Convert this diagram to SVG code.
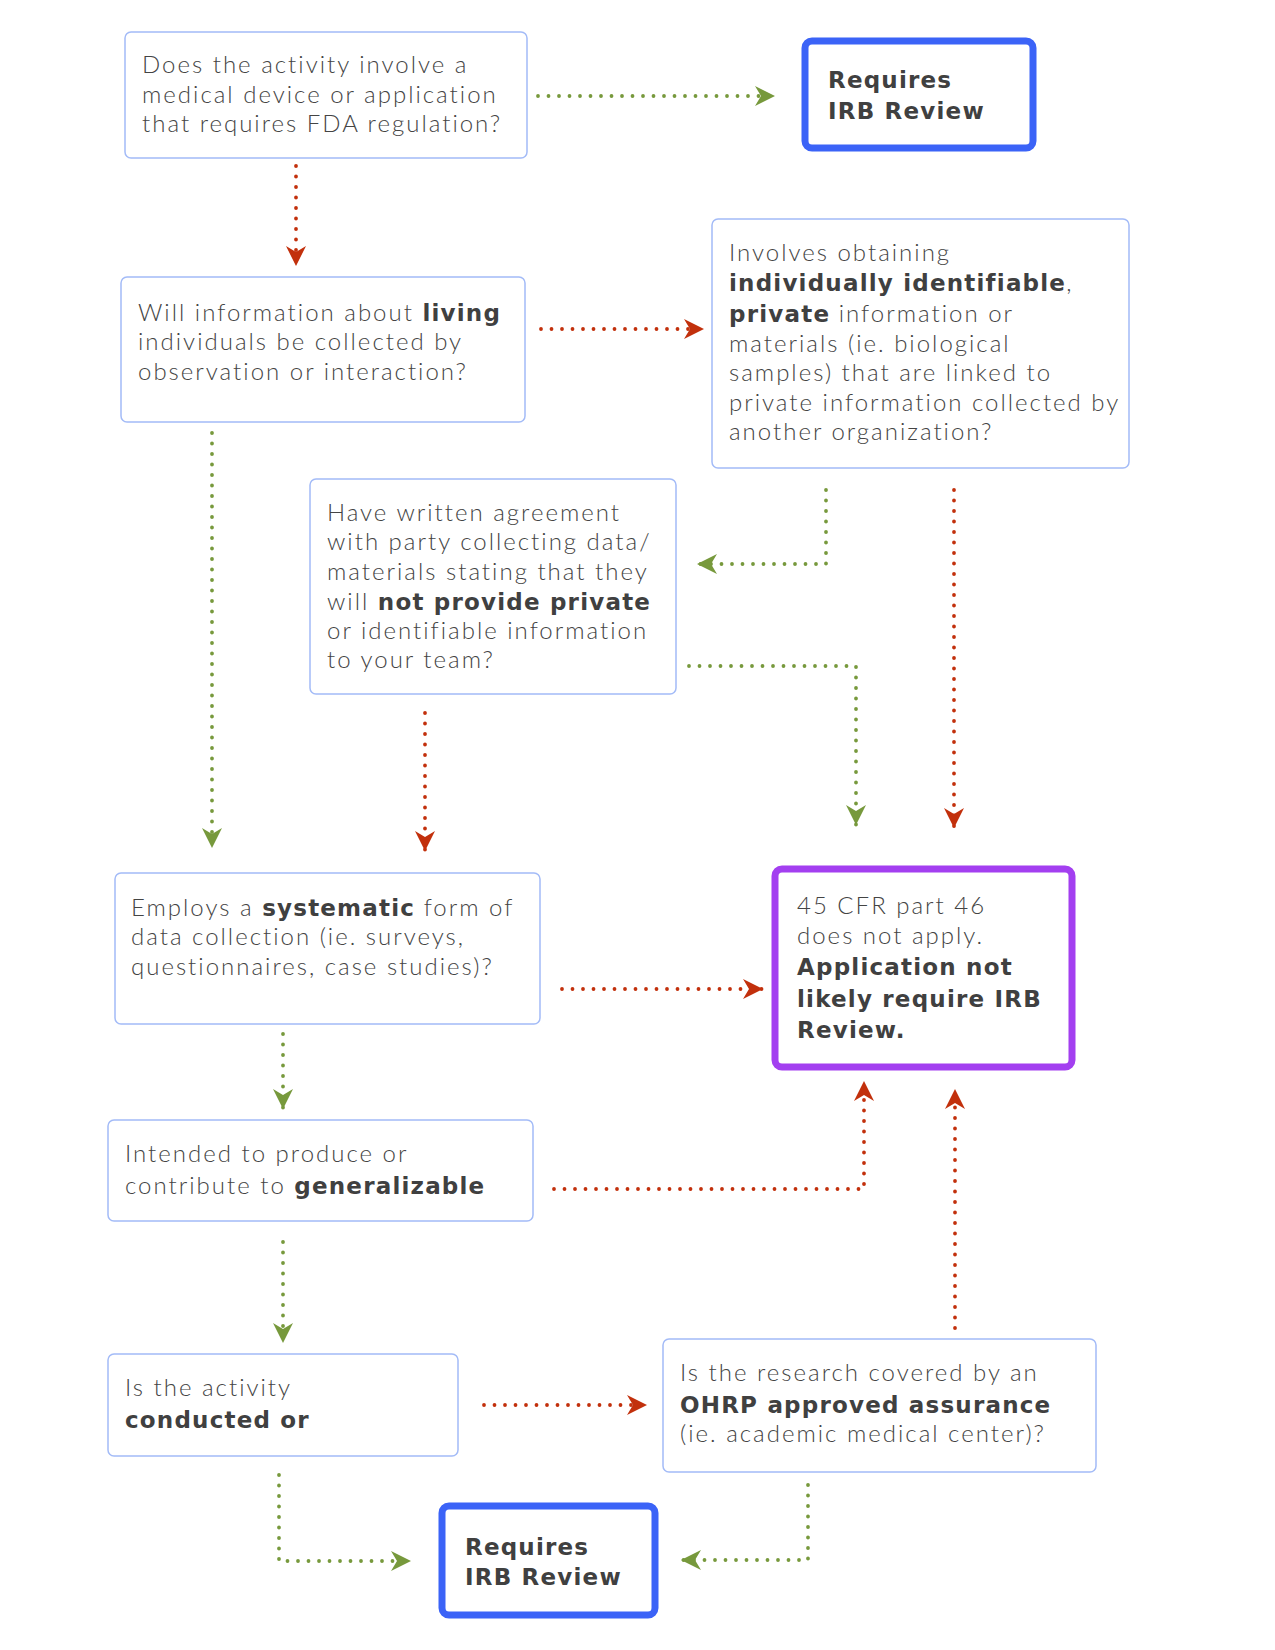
<svg xmlns="http://www.w3.org/2000/svg" width="1275" height="1650" viewBox="0 0 1275 1650">
<defs>
<style>
.box{fill:#fff;stroke:#a3bbf7;stroke-width:1.5}
.blue{fill:#fff;stroke:#3b63f7;stroke-width:7}
.purple{fill:#fff;stroke:#a33ff0;stroke-width:7}
text{font-family:Lato,"Liberation Sans",sans-serif;font-size:24px;font-weight:300;fill:#444;letter-spacing:2px}
.b{font-family:"DejaVu Sans","Liberation Sans",sans-serif;font-size:23px;font-weight:700;letter-spacing:1.2px;fill:#404040}
text.t{font-family:"DejaVu Sans","Liberation Sans",sans-serif;font-weight:700;letter-spacing:1.2px;fill:#404040;font-size:23px}
.g{fill:none;stroke:#77993c;stroke-width:3.8;stroke-linecap:round;stroke-dasharray:0 10.5}
.r{fill:none;stroke:#c2300c;stroke-width:3.8;stroke-linecap:round;stroke-dasharray:0 10.5}
</style>
<marker id="ag" markerUnits="userSpaceOnUse" markerWidth="22" markerHeight="22" refX="20" refY="10" orient="auto"><path d="M0,0 L20,10 L0,20 L6,10 z" fill="#77993c"/></marker>
<marker id="ar" markerUnits="userSpaceOnUse" markerWidth="22" markerHeight="22" refX="20" refY="10" orient="auto"><path d="M0,0 L20,10 L0,20 L6,10 z" fill="#c2300c"/></marker>
</defs>
<rect width="1275" height="1650" fill="#fff"/>
<g id="connectors">
<path class="g" d="M538,96 H775" marker-end="url(#ag)"/>
<path class="r" d="M296,166 V266" marker-end="url(#ar)"/>
<path class="r" d="M541,329 H704" marker-end="url(#ar)"/>
<path class="g" d="M212,433 V848" marker-end="url(#ag)"/>
<path class="g" d="M826,490 V564 H697" marker-end="url(#ag)"/>
<path class="r" d="M954,490 V828" marker-end="url(#ar)"/>
<path class="g" d="M689,666 H856 V825" marker-end="url(#ag)"/>
<path class="r" d="M425,713 V851" marker-end="url(#ar)"/>
<path class="r" d="M562,989 H763" marker-end="url(#ar)"/>
<path class="g" d="M283,1034 V1109" marker-end="url(#ag)"/>
<path class="r" d="M554,1189 H864 V1081" marker-end="url(#ar)"/>
<path class="g" d="M283,1242 V1343" marker-end="url(#ag)"/>
<path class="r" d="M484,1405 H647" marker-end="url(#ar)"/>
<path class="r" d="M955,1328 V1089" marker-end="url(#ar)"/>
<path class="g" d="M279,1475 V1561 H411" marker-end="url(#ag)"/>
<path class="g" d="M808,1485 V1560 H681" marker-end="url(#ag)"/>
</g>
<g id="n1">
<rect class="box" x="125" y="32" width="402" height="126" rx="6"/>
<text x="142" y="73">Does the activity involve a</text>
<text x="142" y="103">medical device or application</text>
<text x="142" y="132">that requires FDA regulation?</text>
</g>
<g id="n2">
<rect class="blue" x="805" y="41" width="228" height="107" rx="7"/>
<text class="t" x="828" y="88">Requires</text>
<text class="t" x="828" y="119">IRB Review</text>
</g>
<g id="n3">
<rect class="box" x="121" y="277" width="404" height="145" rx="6"/>
<text x="138" y="321">Will information about <tspan class="b">living</tspan></text>
<text x="138" y="350">individuals be collected by</text>
<text x="138" y="380">observation or interaction?</text>
</g>
<g id="n4">
<rect class="box" x="712" y="219" width="417" height="249" rx="6"/>
<text x="729" y="261">Involves obtaining</text>
<text x="729" y="291"><tspan class="b">individually identifiable</tspan>,</text>
<text x="729" y="322"><tspan class="b">private</tspan> information or</text>
<text x="729" y="352">materials (ie. biological</text>
<text x="729" y="381">samples) that are linked to</text>
<text x="729" y="411">private information collected by</text>
<text x="729" y="440">another organization?</text>
</g>
<g id="n5">
<rect class="box" x="310" y="479" width="366" height="215" rx="6"/>
<text x="327" y="521">Have written agreement</text>
<text x="327" y="550">with party collecting data/</text>
<text x="327" y="580">materials stating that they</text>
<text x="327" y="610">will <tspan class="b">not provide private</tspan></text>
<text x="327" y="639">or identifiable information</text>
<text x="327" y="668">to your team?</text>
</g>
<g id="n6">
<rect class="box" x="115" y="873" width="425" height="151" rx="6"/>
<text x="131" y="916">Employs a <tspan class="b">systematic</tspan> form of</text>
<text x="131" y="945">data collection (ie. surveys,</text>
<text x="131" y="975">questionnaires, case studies)?</text>
</g>
<g id="n7">
<rect class="purple" x="775" y="869" width="297" height="198" rx="7"/>
<text x="797" y="914">45 CFR part 46</text>
<text x="797" y="944">does not apply.</text>
<text class="t" x="797" y="975">Application not</text>
<text class="t" x="797" y="1007">likely require IRB</text>
<text class="t" x="797" y="1038">Review.</text>
</g>
<g id="n8">
<rect class="box" x="108" y="1120" width="425" height="101" rx="6"/>
<text x="125" y="1162">Intended to produce or</text>
<text x="125" y="1194">contribute to <tspan class="b">generalizable</tspan></text>
</g>
<g id="n9">
<rect class="box" x="108" y="1354" width="350" height="102" rx="6"/>
<text x="125" y="1396">Is the activity</text>
<text class="t" x="125" y="1428">conducted or</text>
</g>
<g id="n10">
<rect class="box" x="663" y="1339" width="433" height="133" rx="6"/>
<text x="680" y="1381">Is the research covered by an</text>
<text x="680" y="1413"><tspan class="b">OHRP approved assurance</tspan></text>
<text x="680" y="1442">(ie. academic medical center)?</text>
</g>
<g id="n11">
<rect class="blue" x="442" y="1506" width="213" height="109" rx="7"/>
<text class="t" x="465" y="1555">Requires</text>
<text class="t" x="465" y="1585">IRB Review</text>
</g>
</svg>
